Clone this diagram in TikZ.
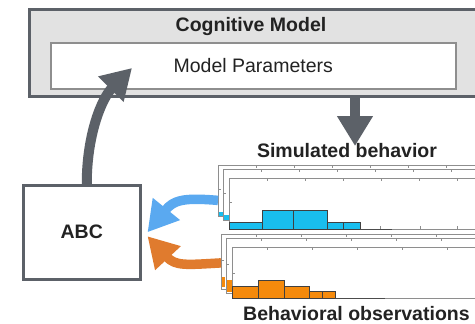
\documentclass[tikz,border=0pt]{standalone}
\usepackage{fontspec}
\setmainfont{Liberation Sans}
\usetikzlibrary{arrows.meta}
\definecolor{dgrey}{HTML}{5C6168}
\definecolor{boxgrey}{HTML}{E2E2E2}
\definecolor{fgrey}{HTML}{8E8E8E}
\definecolor{lblue}{HTML}{5AA9F0}
\definecolor{lorange}{HTML}{E07B2E}
\definecolor{hblue}{HTML}{19BEEE}
\definecolor{horange}{HTML}{F58A0C}
\definecolor{txt}{HTML}{222222}
\tikzset{
  box/.style={draw=dgrey, line width=2.5pt, inner sep=0pt, anchor=north west},
  frame/.style={draw=fgrey, fill=white, line width=0.8pt, inner sep=0pt, anchor=north west, minimum width=270pt},
  garrow/.style={draw=dgrey, line width=10pt, -{Triangle[length=30pt,width=34pt]}},
  barrow/.style={draw=lblue, line width=9.5pt, -{Triangle[length=30pt,width=33pt]}},
  oarrow/.style={draw=lorange, line width=9.5pt, -{Triangle[length=30pt,width=33pt]}},
  btitle/.style={font=\fontsize{19.5}{22}\selectfont\bfseries, text=txt, inner sep=0pt, anchor=base},
  bbar/.style={fill=hblue, draw=black!75, line width=0.6pt},
  obar/.style={fill=horange, draw=black!75, line width=0.6pt},
  tick/.style={draw=fgrey, line width=0.6pt},
}
\begin{document}
\begin{tikzpicture}[x=1pt,y=-1pt]
\useasboundingbox (0,0) rectangle (475,324);
\fill[white] (0,0) rectangle (475,324);

% Cognitive model
\node[box, fill=boxgrey, minimum width=456pt, minimum height=87pt] (cog) at (28,8) {};
\node[btitle] (cogt) at (251,31) {Cognitive Model};
\node[draw=fgrey, fill=white, line width=1.5pt, inner sep=0pt, anchor=north west,
      minimum width=405pt, minimum height=46pt,
      font=\fontsize{19.5}{22}\selectfont, text=txt] (par) at (50,42) {Model Parameters};

% ABC
\node[box, fill=white, minimum width=117pt, minimum height=94pt,
      font=\fontsize{19.5}{22}\selectfont\bfseries, text=txt] (abc) at (22,184) {ABC};

% Simulated frames
\node[frame, minimum height=51pt] (s1) at (218,165) {};
\fill[hblue] (219,212) rectangle (223,216);
\node[frame, minimum height=51pt] (s2) at (223,169) {};
\fill[hblue] (224,215) rectangle (229,220);
\node[frame, minimum height=51pt] (s3) at (229,178) {};
\foreach \fx/\fy in {218/165, 223/169, 229/178} {
  \foreach \k in {0,...,6} \draw[tick] (\fx+38+38*\k,\fy) -- ++(0,3);
  \draw[tick] (\fx,\fy+24) -- ++(3,0);
}
\draw[bbar] (229,222) rectangle (262,229);
\draw[bbar] (262,210) rectangle (293,229);
\draw[bbar] (293,210) rectangle (327,229);
\draw[bbar] (327,222) rectangle (343,229);
\draw[bbar] (343,222) rectangle (360,229);
\draw[black!70, line width=0.8pt] (360,229) -- (392,229);
\foreach \x in {380,420,457} \draw[tick] (\x,229) -- ++(0,-3);

% Observed frames
\node[frame, minimum height=55pt] (o1) at (221,234) {};
\fill[horange] (222,277) rectangle (225,287);
\node[frame, minimum height=55pt] (o2) at (226,238) {};
\fill[horange] (227,280) rectangle (232,292);
\node[frame, minimum height=51pt] (o3) at (232,247) {};
\foreach \fx/\fy in {221/234, 226/238, 232/247} {
  \foreach \k in {0,...,5} \draw[tick] (\fx+35+45*\k,\fy) -- ++(0,3);
  \draw[tick] (\fx,\fy+26) -- ++(3,0);
}
\draw[obar] (232,286) rectangle (258,298);
\draw[obar] (258,280) rectangle (284,298);
\draw[obar] (284,286) rectangle (309,298);
\draw[obar] (309,291) rectangle (322,298);
\draw[obar] (322,291) rectangle (335,298);
\draw[black!70, line width=0.8pt] (335,298) -- (385,298);

% Titles
\node[btitle] (simt) at (347,157) {Simulated behavior};
\node[btitle, anchor=base west] (obst) at (243,320) {Behavioral observations};

% Arrows
\coordinate (ptip) at (132,68);
\coordinate (dtip) at (355,146);
\draw[garrow] ([xshift=5pt]abc.north) .. controls +(0,-50) and +(-30,30) .. (ptip);
\draw[garrow] (cog.south -| dtip) -- (dtip);
\draw[barrow] ([yshift=-9.5pt]s1.west) .. controls +(-35,-3) and +(26,-32) .. ([xshift=6pt]abc.east);
\draw[oarrow] ([yshift=-1pt]o1.west) .. controls +(-35,2) and +(28,30) .. ([xshift=6pt,yshift=-4pt]abc.east);
\end{tikzpicture}
\end{document}
